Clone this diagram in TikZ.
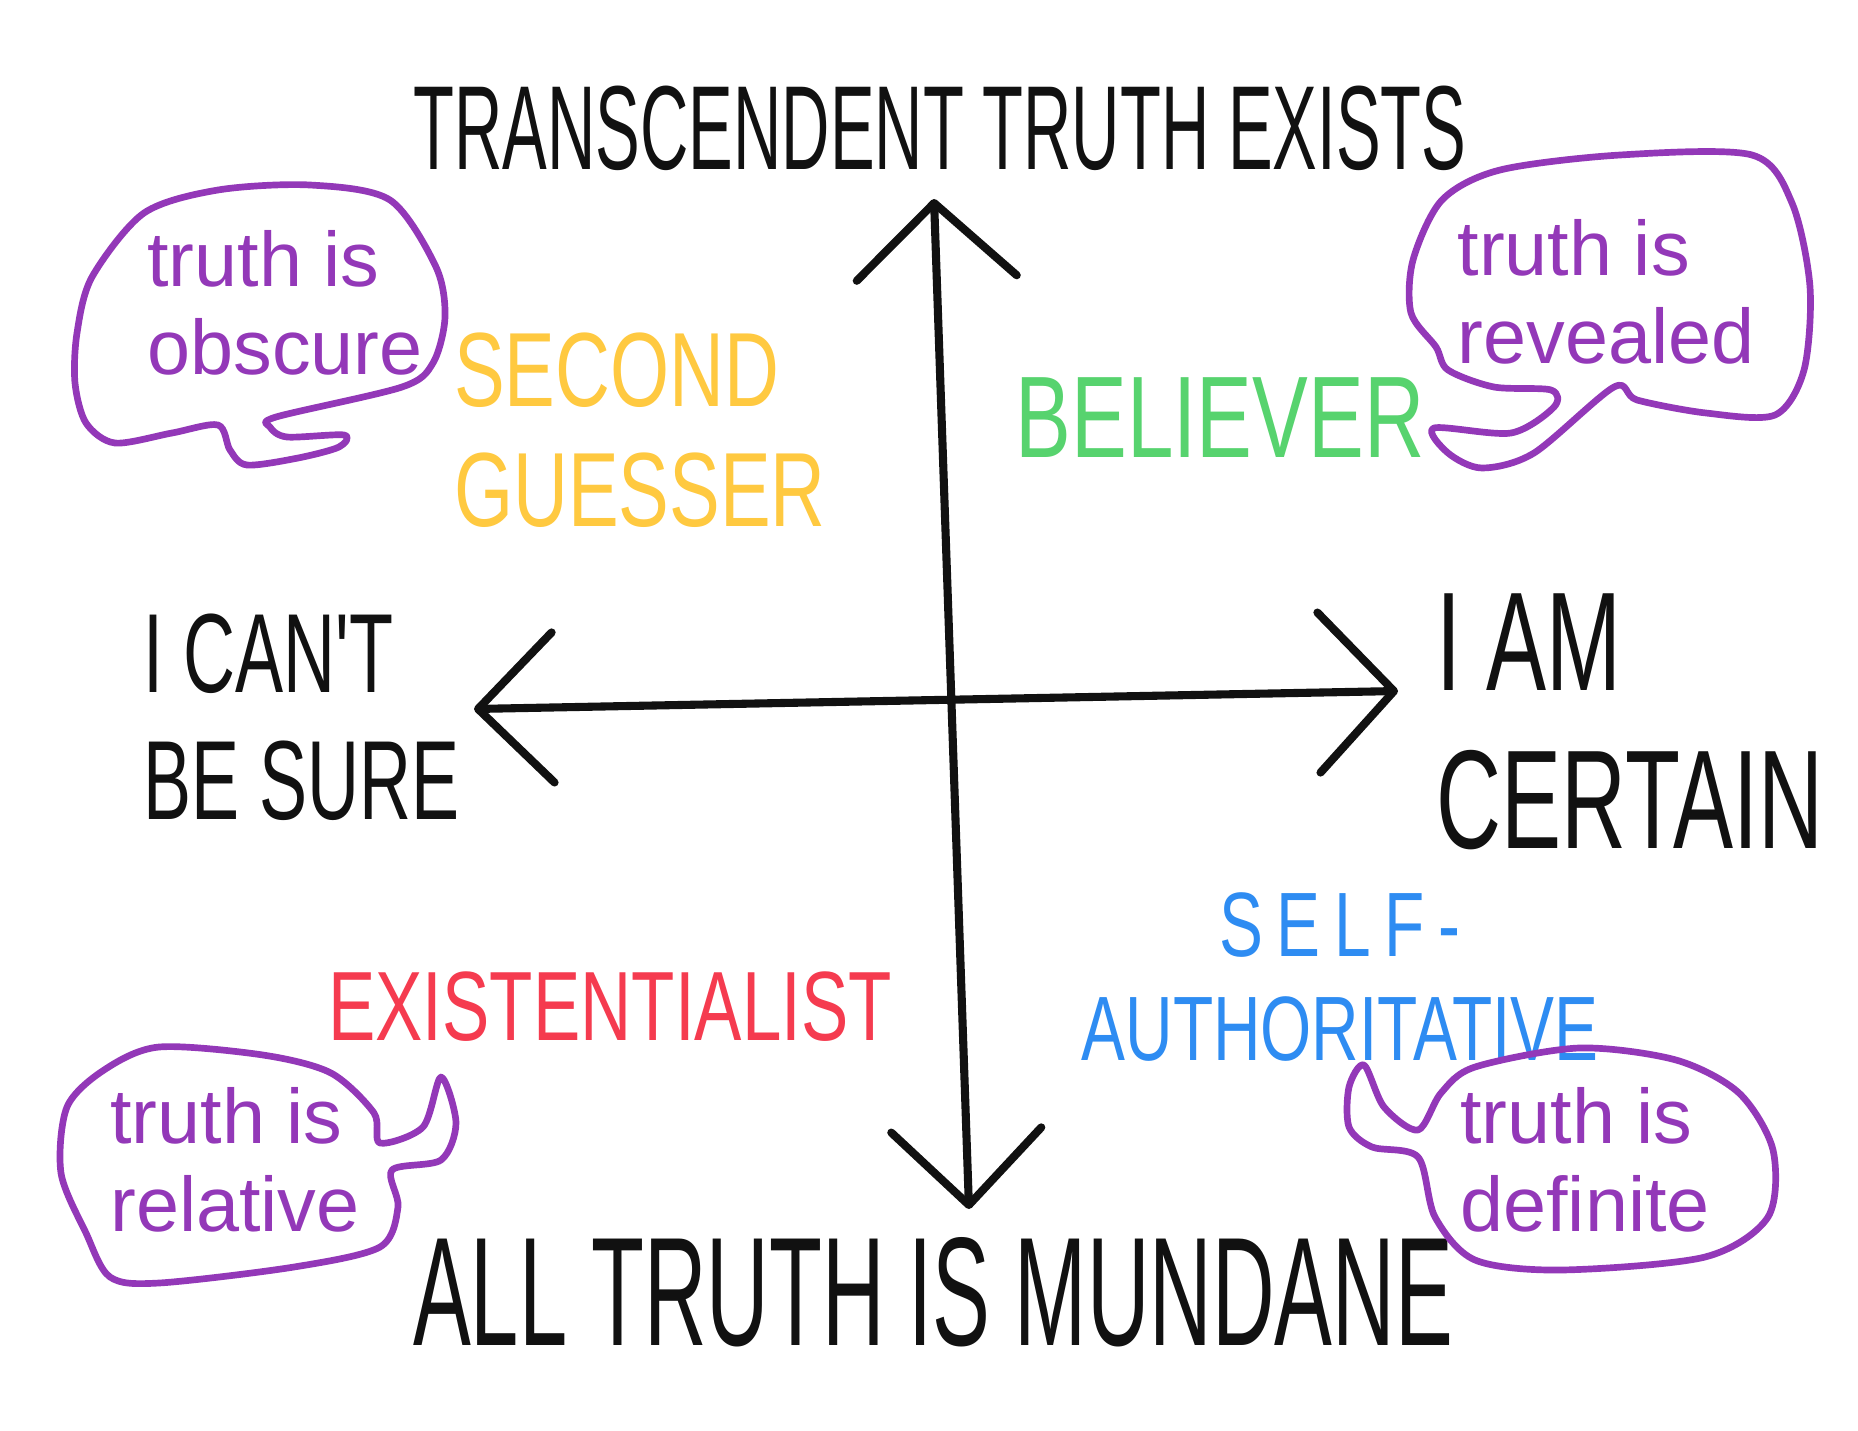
\documentclass[tikz,border=0pt]{standalone}
\usepackage{fontspec}
\usepackage{tikz}
\usetikzlibrary{arrows.meta}
\newfontfamily\handcap[FakeStretch=0.56]{Liberation Sans}
\newfontfamily\handpole[FakeStretch=0.64]{Liberation Sans}
\newfontfamily\handtag[FakeStretch=0.72]{Liberation Sans}
\newfontfamily\handnote{Liberation Sans}
\definecolor{ink}      {HTML}{111111}
\definecolor{purple500}{HTML}{9338B8}
\definecolor{yellow400}{HTML}{FFC940}
\definecolor{green400} {HTML}{57D36E}
\definecolor{red500}   {HTML}{F53B4F}
\definecolor{blue500}  {HTML}{2E8CF2}
\tikzset{
  axis/.style ={draw=ink, line width=2.3pt, line cap=round, line join=round,
                {Straight Barb[length=7.5mm,width=15mm,round]}-{Straight Barb[length=7.5mm,width=16mm,round]}},
  pole/.style ={text=ink, inner sep=0pt, align=left},
  quad/.style ={inner sep=0pt, align=left},
  bub/.style  ={draw=purple500, line width=1.9pt, line join=round},
  say/.style  ={text=purple500, inner sep=0pt, align=left,
                font=\handnote\fontsize{22}{25}\selectfont}
}
\begin{document}
\begin{tikzpicture}[x=0.01cm, y=-0.01cm]
\fill[white] (0,0) rectangle (1858,1430);
\useasboundingbox (0,0) rectangle (1858,1430);

% the two axes
\coordinate (west)  at (474,709);
\coordinate (east)  at (1398,691);
\coordinate (south) at (969,1209);
\coordinate (north) at (934,199);
\draw[axis] (west) -- (east);
\draw[axis] (south) -- (north);

% poles
\node[pole, font=\handcap\fontsize{34}{38}\selectfont] (exists) at (940,128)
  {TRANSCENDENT TRUTH EXISTS};
\node[pole, font=\handcap\fontsize{44}{48}\selectfont] (mundane) at (933,1292)
  {ALL TRUTH IS MUNDANE};
\node[pole, font=\handpole\fontsize{32}{36}\selectfont] (unsure) at (302,717)
  {I CAN'T\\BE SURE};
\node[pole, font=\handpole\fontsize{40}{45}\selectfont] (certain) at (1630,722)
  {I AM\\CERTAIN};

% quadrants
\node[quad, text=yellow400, font=\handtag\fontsize{30}{34}\selectfont] (guesser) at (640,430)
  {SECOND\\GUESSER};
\node[quad, text=green400, font=\handtag\fontsize{33}{37}\selectfont] (believer) at (1220,418)
  {BELIEVER};
\node[quad, text=red500, font=\handtag\fontsize{28}{32}\selectfont] (existential) at (610,1007)
  {EXISTENTIALIST};
\node[quad, text=blue500, align=center, font=\handtag\fontsize{26}{29.5}\selectfont] (selfauth) at (1340,977)
  {{\addfontfeatures{LetterSpace=15}SELF-}\\AUTHORITATIVE};

% speech bubbles
\node[say] (obscure)  at (285,303)  {truth is\\obscure};
\node[say] (revealed) at (1606,292) {truth is\\revealed};
\node[say] (relative) at (235,1160) {truth is\\relative};
\node[say] (definite) at (1585,1160) {truth is\\definite};

\draw[bub] plot[smooth cycle, tension=0.5] coordinates {
  (218,190) (310,185) (390,200) (436,267) (445,317) (433,363) (402,387)
  (276,417) (270,427) (287,437) (344,435) (339,447) (298,458) (247,465)
  (230,450) (218,425) (172,433) (115,443) (86,423) (75,383) (77,333)
  (92,277) (144,213)};
\draw[bub] plot[smooth cycle, tension=0.5] coordinates {
  (1500,170) (1620,155) (1752,155) (1792,203) (1810,287) (1804,370)
  (1775,415) (1706,413) (1637,400) (1614,387) (1534,453) (1482,468)
  (1448,453) (1434,428) (1511,433) (1554,407) (1551,390) (1494,387)
  (1448,370) (1436,347) (1411,313) (1413,260) (1442,200)};
\draw[bub] plot[smooth cycle, tension=0.5] coordinates {
  (159,1047) (263,1055) (331,1073) (374,1113) (380,1143) (423,1127)
  (441,1077) (456,1123) (441,1160) (392,1170) (398,1207) (380,1247)
  (294,1267) (159,1283) (110,1277) (86,1233) (61,1173) (67,1107)
  (104,1070)};
\draw[bub] plot[smooth cycle, tension=0.5] coordinates {
  (1579,1048) (1676,1060) (1739,1093) (1773,1150) (1768,1217) (1705,1257)
  (1561,1270) (1475,1260) (1435,1217) (1418,1157) (1372,1147) (1349,1127)
  (1349,1087) (1364,1065) (1384,1107) (1418,1130) (1441,1093) (1475,1067)};
\end{tikzpicture}
\end{document}
